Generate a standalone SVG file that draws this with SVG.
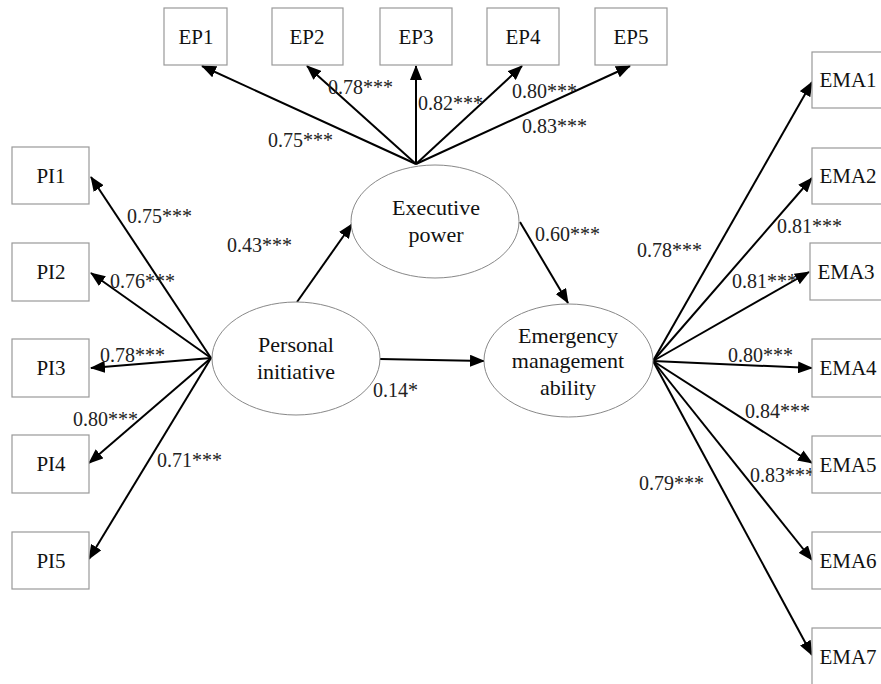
<svg xmlns="http://www.w3.org/2000/svg" width="881" height="684" viewBox="0 0 881 684">
<defs>
<marker id="ah" markerWidth="15" markerHeight="12" refX="14" refY="6" orient="auto" markerUnits="userSpaceOnUse">
<path d="M0,0 L15,6 L0,12 z" fill="#000"/>
</marker>
<style>
.box{fill:#fff;stroke:#999;stroke-width:1.2}
.ell{fill:#fff;stroke:#888;stroke-width:1}
.ar{stroke:#000;stroke-width:2;fill:none;marker-end:url(#ah)}
</style>
</defs>
<rect width="881" height="684" fill="#fff"/>

<g id="connectors">
<line class="ar" x1="416" y1="164" x2="202" y2="66"/>
<line class="ar" x1="416" y1="164" x2="307" y2="66"/>
<line class="ar" x1="416" y1="164" x2="416" y2="66"/>
<line class="ar" x1="416" y1="164" x2="522" y2="66"/>
<line class="ar" x1="416" y1="164" x2="630" y2="66"/>

<line class="ar" x1="211" y1="358" x2="91" y2="177"/>
<line class="ar" x1="211" y1="358" x2="91" y2="273"/>
<line class="ar" x1="211" y1="358" x2="91" y2="368"/>
<line class="ar" x1="211" y1="358" x2="89" y2="463"/>
<line class="ar" x1="211" y1="358" x2="89" y2="559"/>

<line class="ar" x1="297" y1="302" x2="352" y2="224"/>
<line class="ar" x1="520" y1="222" x2="568" y2="303"/>
<line class="ar" x1="380" y1="359" x2="484" y2="361"/>

<line class="ar" x1="653" y1="361" x2="812" y2="82"/>
<line class="ar" x1="653" y1="361" x2="812" y2="178"/>
<line class="ar" x1="653" y1="361" x2="809" y2="272"/>
<line class="ar" x1="653" y1="361" x2="812" y2="368"/>
<line class="ar" x1="653" y1="361" x2="812" y2="463"/>
<line class="ar" x1="653" y1="361" x2="812" y2="560"/>
<line class="ar" x1="653" y1="361" x2="812" y2="655"/>
</g>

<g id="labels">
<text x="268" y="147" font-family="Liberation Serif" font-size="20" fill="#222">0.75***</text>
<text x="328" y="94" font-family="Liberation Serif" font-size="20" fill="#222">0.78***</text>
<text x="418" y="110" font-family="Liberation Serif" font-size="20" fill="#222">0.82***</text>
<text x="512" y="98" font-family="Liberation Serif" font-size="20" fill="#222">0.80***</text>
<text x="522" y="133" font-family="Liberation Serif" font-size="20" fill="#222">0.83***</text>

<text x="127" y="223" font-family="Liberation Serif" font-size="20" fill="#222">0.75***</text>
<text x="110" y="288" font-family="Liberation Serif" font-size="20" fill="#222">0.76***</text>
<text x="100" y="362" font-family="Liberation Serif" font-size="20" fill="#222">0.78***</text>
<text x="73" y="426" font-family="Liberation Serif" font-size="20" fill="#222">0.80***</text>
<text x="157" y="467" font-family="Liberation Serif" font-size="20" fill="#222">0.71***</text>

<text x="227" y="252" font-family="Liberation Serif" font-size="20" fill="#222">0.43***</text>
<text x="535" y="241" font-family="Liberation Serif" font-size="20" fill="#222">0.60***</text>
<text x="373" y="397" font-family="Liberation Serif" font-size="20" fill="#222">0.14*</text>

<text x="637" y="257" font-family="Liberation Serif" font-size="20" fill="#222">0.78***</text>
<text x="777" y="233" font-family="Liberation Serif" font-size="20" fill="#222">0.81***</text>
<text x="732" y="288" font-family="Liberation Serif" font-size="20" fill="#222">0.81***</text>
<text x="728" y="362" font-family="Liberation Serif" font-size="20" fill="#222">0.80***</text>
<text x="745" y="418" font-family="Liberation Serif" font-size="20" fill="#222">0.84***</text>
<text x="750" y="482" font-family="Liberation Serif" font-size="20" fill="#222">0.83***</text>
<text x="639" y="490" font-family="Liberation Serif" font-size="20" fill="#222">0.79***</text>
</g>

<g id="EP1"><rect class="box" x="164" y="8" width="63" height="57"/><text x="196" y="44" font-family="Liberation Serif" font-size="21" fill="#111" text-anchor="middle">EP1</text></g>
<g id="EP2"><rect class="box" x="272" y="8" width="71" height="57"/><text x="307" y="44" font-family="Liberation Serif" font-size="21" fill="#111" text-anchor="middle">EP2</text></g>
<g id="EP3"><rect class="box" x="380" y="8" width="72" height="57"/><text x="416" y="44" font-family="Liberation Serif" font-size="21" fill="#111" text-anchor="middle">EP3</text></g>
<g id="EP4"><rect class="box" x="487" y="8" width="72" height="57"/><text x="523" y="44" font-family="Liberation Serif" font-size="21" fill="#111" text-anchor="middle">EP4</text></g>
<g id="EP5"><rect class="box" x="595" y="8" width="72" height="57"/><text x="631" y="44" font-family="Liberation Serif" font-size="21" fill="#111" text-anchor="middle">EP5</text></g>

<g id="PI1"><rect class="box" x="12" y="147" width="77" height="57"/><text x="51" y="183" font-family="Liberation Serif" font-size="21" fill="#111" text-anchor="middle">PI1</text></g>
<g id="PI2"><rect class="box" x="12" y="243" width="77" height="58"/><text x="51" y="279" font-family="Liberation Serif" font-size="21" fill="#111" text-anchor="middle">PI2</text></g>
<g id="PI3"><rect class="box" x="12" y="339" width="77" height="58"/><text x="51" y="375" font-family="Liberation Serif" font-size="21" fill="#111" text-anchor="middle">PI3</text></g>
<g id="PI4"><rect class="box" x="12" y="435" width="77" height="58"/><text x="51" y="471" font-family="Liberation Serif" font-size="21" fill="#111" text-anchor="middle">PI4</text></g>
<g id="PI5"><rect class="box" x="12" y="532" width="77" height="57"/><text x="51" y="568" font-family="Liberation Serif" font-size="21" fill="#111" text-anchor="middle">PI5</text></g>

<g id="EMA1"><rect class="box" x="812" y="52" width="80" height="56"/><text x="848" y="87" font-family="Liberation Serif" font-size="21" fill="#111" text-anchor="middle">EMA1</text></g>
<g id="EMA2"><rect class="box" x="812" y="148" width="80" height="56"/><text x="848" y="183" font-family="Liberation Serif" font-size="21" fill="#111" text-anchor="middle">EMA2</text></g>
<g id="EMA3"><rect class="box" x="810" y="243" width="80" height="57"/><text x="846" y="279" font-family="Liberation Serif" font-size="21" fill="#111" text-anchor="middle">EMA3</text></g>
<g id="EMA4"><rect class="box" x="812" y="339" width="80" height="58"/><text x="848" y="375" font-family="Liberation Serif" font-size="21" fill="#111" text-anchor="middle">EMA4</text></g>
<g id="EMA5"><rect class="box" x="812" y="436" width="80" height="57"/><text x="848" y="472" font-family="Liberation Serif" font-size="21" fill="#111" text-anchor="middle">EMA5</text></g>
<g id="EMA6"><rect class="box" x="812" y="532" width="80" height="57"/><text x="848" y="568" font-family="Liberation Serif" font-size="21" fill="#111" text-anchor="middle">EMA6</text></g>
<g id="EMA7"><rect class="box" x="812" y="628" width="80" height="60"/><text x="848" y="664" font-family="Liberation Serif" font-size="21" fill="#111" text-anchor="middle">EMA7</text></g>

<g id="executive-power"><ellipse class="ell" cx="435" cy="221.5" rx="84" ry="56.5"/><text x="436" y="215" font-family="Liberation Serif" font-size="22" fill="#111" text-anchor="middle">Executive</text><text x="436" y="242" font-family="Liberation Serif" font-size="22" fill="#111" text-anchor="middle">power</text></g>
<g id="personal-initiative"><ellipse class="ell" cx="296" cy="358.5" rx="84" ry="56.5"/><text x="296" y="352" font-family="Liberation Serif" font-size="22" fill="#111" text-anchor="middle">Personal</text><text x="296" y="379" font-family="Liberation Serif" font-size="22" fill="#111" text-anchor="middle">initiative</text></g>
<g id="emergency-management-ability"><ellipse class="ell" cx="568.5" cy="360.5" rx="84.5" ry="56.5"/><text x="568" y="343" font-family="Liberation Serif" font-size="22" fill="#111" text-anchor="middle">Emergency</text><text x="568" y="368" font-family="Liberation Serif" font-size="22" fill="#111" text-anchor="middle">management</text><text x="568" y="395" font-family="Liberation Serif" font-size="22" fill="#111" text-anchor="middle">ability</text></g>
</svg>
